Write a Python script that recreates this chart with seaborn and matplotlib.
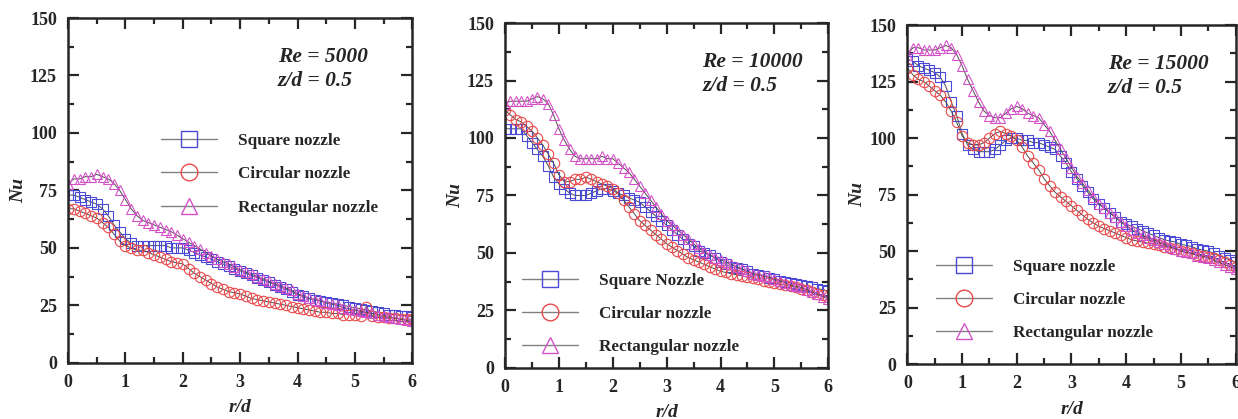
import numpy as np
import matplotlib
matplotlib.use("Agg")
import matplotlib.pyplot as plt
from matplotlib.ticker import MultipleLocator
from matplotlib.lines import Line2D
import seaborn as sns

# r/d sample positions (step 0.1)
r_d = np.round(np.arange(0, 61) * 0.1, 1)

# Re = 5000
sq_5000 = [73, 73, 72, 71, 70, 69, 67, 64, 60, 57,
           54, 52, 51, 51, 51, 51, 51, 51, 50, 50,
           50, 49, 48, 47, 46, 45, 44, 43, 42, 41,
           40, 39, 38, 37, 36, 35, 34, 33, 32, 31,
           29.5, 29, 28, 27.5, 27, 26.5, 26, 25.5, 25, 24.5,
           24, 23.5, 23, 22.5, 22, 21.5, 21, 21, 20.5, 20.5,
           20]
ci_5000 = [67, 67, 66, 65, 64, 63, 61, 59, 56, 53,
           51, 50, 49, 49, 48, 47, 46, 45, 44, 43.5,
           43, 41, 39, 37.5, 36, 34.5, 33, 32, 31, 30.5,
           30, 29, 28, 27.5, 27, 26.5, 26, 25.5, 25, 24.5,
           24, 23.5, 23, 22.5, 22, 22, 21.5, 21.5, 21, 21,
           21, 20.5, 24.5, 20.5, 20, 20, 19.5, 19.5, 19, 19,
           19]
tr_5000 = [78, 80, 80, 81, 81, 82, 81, 80, 78, 75,
           71, 67, 64, 62, 61, 60, 59, 58, 57, 55.5,
           54, 52.5, 51, 49.5, 48, 46.5, 45, 44, 43, 41.5,
           40.5, 39.5, 38.5, 37.5, 36.5, 35.5, 34.5, 33.5, 32.5, 31.5,
           30, 29, 28, 27.5, 27, 26, 25.5, 25, 24, 23.5,
           23, 22.5, 22, 21.5, 21, 20.5, 20, 19.5, 19, 18.5,
           18]

# Re = 10000
sq_10000 = [104, 104, 104, 104, 101, 98, 95, 92, 88, 83,
            80, 78, 76, 75, 75, 75, 76, 77, 78, 78,
            77, 76, 75, 74, 73, 72, 70, 68, 66, 64,
            62, 60, 58, 56, 54, 53, 51, 50, 49, 48,
            46, 45, 44, 43.5, 43, 42, 41, 40.5, 40, 39,
            38.5, 38, 37.5, 37, 36.5, 36, 35.5, 35, 34.5, 34,
            33.5]
ci_10000 = [112, 110, 108, 107, 105, 103, 100, 97, 93, 89,
            84, 81, 81, 82, 82, 83, 82, 81, 80, 79,
            78, 76, 73, 70, 67, 64, 62, 60, 58, 56,
            54, 52.5, 51, 49.5, 48, 47, 46, 45, 44, 43,
            42, 41.5, 41, 40.5, 40, 39.5, 39, 38.5, 38, 37.5,
            37, 36.5, 36, 35.5, 35, 34.5, 34, 33, 32, 31.5,
            31]
tr_10000 = [115, 116, 116, 116, 116, 117, 118, 117, 115, 110,
            104, 99, 95, 92, 91, 91, 91, 91, 92, 91,
            91, 89, 87, 85, 82, 79, 76, 73, 70, 67,
            64, 62, 60, 58, 56, 54, 52, 50.5, 49, 48,
            47, 46, 45, 44, 43, 42, 41, 40.5, 40, 39.5,
            38.5, 38, 37, 36, 35.5, 35, 34, 33, 32, 31,
            30]

# Re = 15000
sq_15000 = [135, 134, 132, 131, 130, 129, 127, 123, 116, 110,
            102, 97, 95, 94, 94, 94, 95, 97, 99, 100,
            100, 99, 99, 98, 98, 97, 96, 95, 92, 89,
            85, 82, 79, 76, 73, 71, 69, 67, 65, 63,
            62, 61, 60, 59, 58, 57, 56, 55, 54.5, 54,
            53, 52.5, 52, 51, 50.5, 50, 49, 48, 47, 46,
            45]
ci_15000 = [131, 128, 126, 125, 123, 121, 119, 116, 112, 107,
            101, 98, 97, 97, 98, 100, 102, 103, 102, 101,
            99, 96, 92, 89, 86, 82, 79, 76, 74, 72,
            70, 68, 66, 64, 62.5, 61, 60, 59, 58, 57,
            56, 55, 54.5, 54, 53.5, 53, 52.5, 52, 51.5, 51,
            50, 49.5, 49, 48.5, 48, 47.5, 47, 46, 45, 44,
            43]
tr_15000 = [137, 140, 140, 139, 139, 139, 140, 141, 140, 137,
            132, 126, 121, 116, 112, 110, 109, 109, 111, 113,
            114, 113, 111, 110, 109, 106, 103, 99, 95, 91,
            87, 83, 80, 77, 74, 71, 69, 67, 65, 63,
            61, 59.5, 58, 57, 56, 55, 54, 53, 52, 51,
            50, 49.5, 49, 48, 47.5, 47, 46, 45, 44, 43,
            42]

re_labels = ["Re = 5000", "Re = 10000", "Re = 15000"]
legend_names = [["Square nozzle", "Circular nozzle", "Rectangular nozzle"],
                ["Square Nozzle", "Circular nozzle", "Rectangular nozzle"],
                ["Square nozzle", "Circular nozzle", "Rectangular nozzle"]]
panels = [(sq_5000, ci_5000, tr_5000),
          (sq_10000, ci_10000, tr_10000),
          (sq_15000, ci_15000, tr_15000)]

sns.set_style("ticks")
plt.rcParams['font.family'] = ['Liberation Serif', 'DejaVu Serif']
plt.rcParams['font.weight'] = 'bold'

markers = ['s', 'o', '^']
colors = ['#4a4ad6', '#e8484a', '#d452c8']

fig = plt.figure(figsize=(12.38, 4.19), dpi=100)
ax_pos = [[0.055, 0.134, 0.278, 0.823],
          [0.408, 0.122, 0.261, 0.823],
          [0.733, 0.131, 0.265, 0.809]]
leg_anchor = [(0.225, 0.71), (0.005, 0.32), (0.04, 0.355)]

for i, (series, pos) in enumerate(zip(panels, ax_pos)):
    ax = fig.add_axes(pos)
    for vals, mk, col in zip(series, markers, colors):
        sns.lineplot(x=r_d, y=vals, ax=ax, color='0.3', lw=0.7,
                     marker=mk, ms=7.5, mfc='none', mec=col, mew=0.8)
    ax.set_xlim(0, 6)
    ax.set_ylim(0, 150)
    ax.xaxis.set_major_locator(MultipleLocator(1))
    ax.xaxis.set_minor_locator(MultipleLocator(0.5))
    ax.yaxis.set_major_locator(MultipleLocator(25))
    ax.yaxis.set_minor_locator(MultipleLocator(12.5))
    ax.tick_params(which='both', direction='in', top=True, right=True,
                   width=1.6, labelsize=13)
    ax.tick_params(which='major', length=8, pad=8)
    ax.tick_params(which='minor', length=4)
    for lab in ax.get_xticklabels() + ax.get_yticklabels():
        lab.set_fontweight('bold')
    for sp in ax.spines.values():
        sp.set_linewidth(1.8)
    ax.set_xlabel('r/d', fontsize=14, fontstyle='italic', fontweight='bold', labelpad=6)
    ax.set_ylabel('Nu', fontsize=14, fontstyle='italic', fontweight='bold', labelpad=2)
    ax.text(0.61, 0.915, re_labels[i] + "\nz/d = 0.5", transform=ax.transAxes,
            ha='left', va='top', fontsize=15.5, fontstyle='italic',
            fontweight='bold', linespacing=1.25)
    handles = [Line2D([], [], color='0.5', lw=1.0, marker=mk, ms=12,
                      mfc='none', mec=col, mew=1.0)
               for mk, col in zip(markers, colors)]
    ax.legend(handles, legend_names[i], loc='upper left',
              bbox_to_anchor=leg_anchor[i], frameon=False,
              handlelength=3.3, handletextpad=1.2, labelspacing=1.0,
              prop={'family': 'Liberation Serif', 'weight': 'bold', 'size': 12.3})

fig.savefig('out.png', dpi=100)
